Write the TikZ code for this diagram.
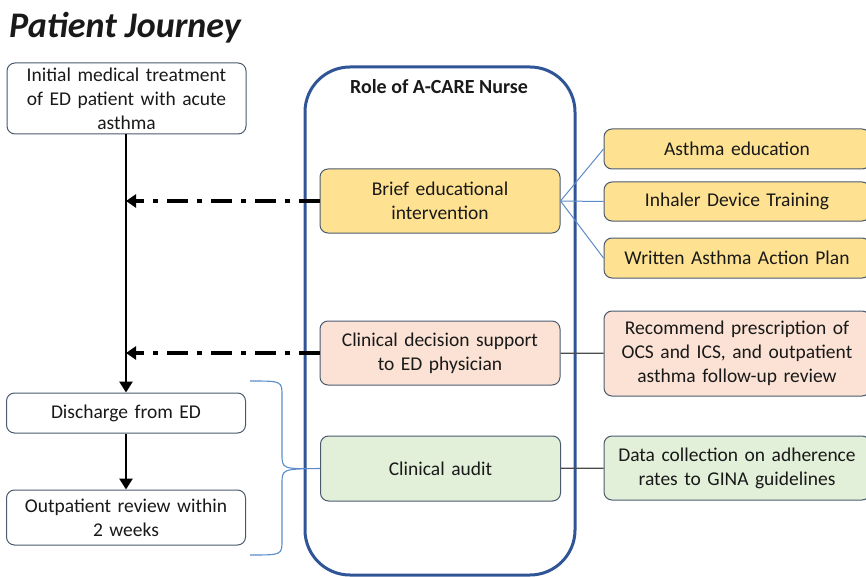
\documentclass[tikz,border=0pt]{standalone}
\usepackage{fontspec}
\setmainfont{Carlito}
\usepackage{tikz}
\usetikzlibrary{arrows.meta,positioning}

\definecolor{edgegrey}{RGB}{75,90,110}
\definecolor{nurseblue}{RGB}{47,85,151}
\definecolor{fanblue}{RGB}{91,140,200}
\definecolor{goldfill}{RGB}{255,226,145}
\definecolor{peachfill}{RGB}{251,226,212}
\definecolor{greenfill}{RGB}{226,240,217}

\begin{document}
\begin{tikzpicture}[x=1pt,y=-1pt]
		\tikzstyle{box}=[rectangle, rounded corners=8pt, draw=edgegrey, line width=1pt, align=center, inner sep=2pt, font=\fontsize{19.5}{24}\selectfont, text=black!90]
		\tikzstyle{journey}=[box, fill=white, minimum width=239pt, text width=235pt]
		\tikzstyle{role}=[box, minimum width=240pt, minimum height=64pt, text width=236pt]
		\tikzstyle{task}=[box, minimum width=266pt, text width=262pt]
		\tikzstyle{flow}=[line width=2.8pt, -{Triangle[length=11pt,width=13pt]}]
		\tikzstyle{feedback}=[line width=3.8pt, dash pattern=on 21pt off 9pt on 5pt off 9pt, -{Triangle[length=10pt,width=13pt]}]
		\tikzstyle{fan}=[draw=fanblue, line width=1pt]
		\tikzstyle{link}=[draw=black!70, line width=1.2pt]
		
		\useasboundingbox (0,0) rectangle (866,577);
		
		% Title
		\node[anchor=west, inner sep=0pt, font=\fontsize{36}{40}\selectfont\bfseries\itshape, text=black!90] (title) at (9,28) {Patient Journey};
		
		% Patient journey
		\node[journey, minimum height=71pt] (init) at (126.5,98.5) {Initial medical treatment\\of ED patient with acute\\asthma};
		\node[journey, minimum height=40pt] (dis) at (126,413) {Discharge from ED};
		\node[journey, minimum height=55pt] (outp) at (126,517.5) {Outpatient review within\\2 weeks};
		
		\draw[flow] (init.south -| 126,0) -- (dis.north);
		\draw[flow] (dis) -- (outp);
		
		% Role of A-CARE Nurse
		\node[draw=nurseblue, line width=3pt, rounded corners=45pt, minimum width=270pt, minimum height=508pt] (nurse) at (440,321) {};
		\node[font=\fontsize{20}{22}\selectfont\bfseries, text=black!90] (roletitle) at (439,87) {Role of A-CARE Nurse};
		
		\node[role, fill=goldfill] (brief) at (440,201) {Brief educational\\intervention};
		\node[role, fill=peachfill] (cds) at (440,353) {Clinical decision support\\to ED physician};
		\node[role, fill=greenfill, minimum height=65pt] (audit) at (440.5,468.5) {Clinical audit};
		
		% Feedback to journey
		\draw[feedback] (brief.west) -- (126,201);
		\draw[feedback] (cds.west) -- (126,353);
		
		% Tasks
		\node[task, fill=goldfill, minimum height=40pt] (ae) at (737,149) {Asthma education};
		\node[task, fill=goldfill, minimum height=39pt] (idt) at (737,201.5) {Inhaler Device Training};
		\node[task, fill=goldfill, minimum height=40pt] (waap) at (737,258) {Written Asthma Action Plan};
		\node[task, fill=peachfill, minimum height=85pt] (rec) at (737,353.5) {Recommend prescription of\\OCS and ICS, and outpatient\\asthma follow-up review};
		\node[task, fill=greenfill, minimum height=64pt] (data) at (737,468) {Data collection on adherence\\rates to GINA guidelines};
		
		\foreach \t in {ae,idt,waap}
		\draw[fan] (brief.east) -- (\t.west);
		\draw[link] (cds) -- (rec);
		\draw[link] (audit) -- (data);
		
		% Brace
		\draw[fan, line width=1.1pt] (250,381) .. controls (282,381) .. (282,396) -- (282,454) .. controls (282,469) .. (audit.west) .. controls (282,469) .. (282,484) -- (282,540) .. controls (282,555) .. (250,555);
		
\end{tikzpicture}
\end{document}
